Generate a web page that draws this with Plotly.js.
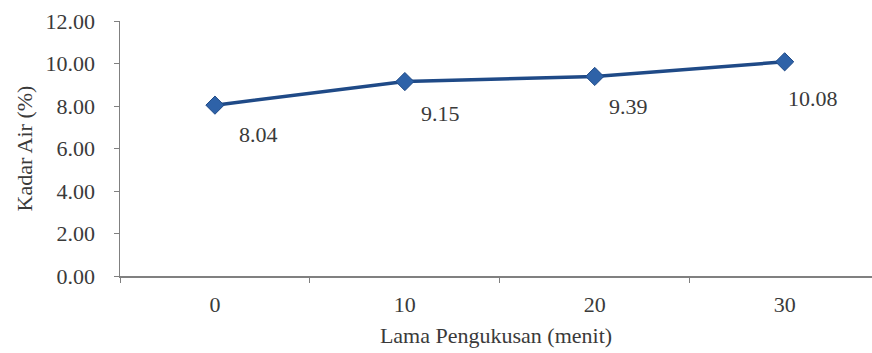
<!DOCTYPE html>
<html>
<head>
<meta charset="utf-8">
<script src="https://cdn.plot.ly/plotly-3.0.1.min.js"></script>
<style>html,body{margin:0;padding:0;background:#fff;}#chart{width:872px;height:353px;}</style>
</head>
<body>
<div id="chart"></div>
<script>
const categories = ["0", "10", "20", "30"];
const kadarAir = [8.04, 9.15, 9.39, 10.08];
const labels = ["8.04", "9.15", "9.39", "10.08"];
const yTicks = [0, 2, 4, 6, 8, 10, 12];
const yTickText = ["0.00", "2.00", "4.00", "6.00", "8.00", "10.00", "12.00"];

const FAM = "'Liberation Serif', 'Times New Roman', Times, 'DejaVu Serif', serif";
const mk = (s) => ({family: FAM, color: "#3a3a3a", size: s});

const trace = {
  x: categories, y: kadarAir, type: "scatter", mode: "lines+markers",
  line: {color: "#1f4a87", width: 3.5},
  marker: {symbol: "diamond", size: 14, color: "#2e62a8", line: {color: "#1f4a87", width: 1}},
  hoverinfo: "none", showlegend: false
};

const shifts = [[44, -29], [36, -32], [34, -30], [28, -37]];
const annotations = categories.map((c, i) => ({
  x: i, y: kadarAir[i], xref: "x", yref: "y", text: labels[i], showarrow: false,
  xshift: shifts[i][0], yshift: shifts[i][1],
  font: mk(22)
}));

const layout = {
  width: 872, height: 353,
  margin: {l: 120, r: 0, t: 21, b: 77},
  paper_bgcolor: "#fff", plot_bgcolor: "#fff",
  font: mk(22),
  xaxis: {
    type: "category", range: [-0.5, 3.46],
    showgrid: false, zeroline: false,
    showline: true, linecolor: "#808080", linewidth: 1.5,
    ticks: "outside", tickson: "boundaries", ticklen: 5, tickcolor: "#808080",
    ticklabelstandoff: 8,
    tickfont: mk(22),
    title: {text: "Lama Pengukusan (menit)", font: mk(22), standoff: 11}
  },
  yaxis: {
    range: [0, 12], tickvals: yTicks, ticktext: yTickText,
    showgrid: false, zeroline: false,
    showline: true, linecolor: "#808080", linewidth: 1.5,
    ticks: "outside", ticklen: 5, tickcolor: "#808080",
    ticklabelstandoff: 14,
    tickfont: mk(22),
    title: {text: "Kadar Air (%)", font: mk(22), standoff: 7}
  },
  annotations: annotations
};

Plotly.newPlot("chart", [trace], layout, {displayModeBar: false, staticPlot: true});
</script>
</body>
</html>
